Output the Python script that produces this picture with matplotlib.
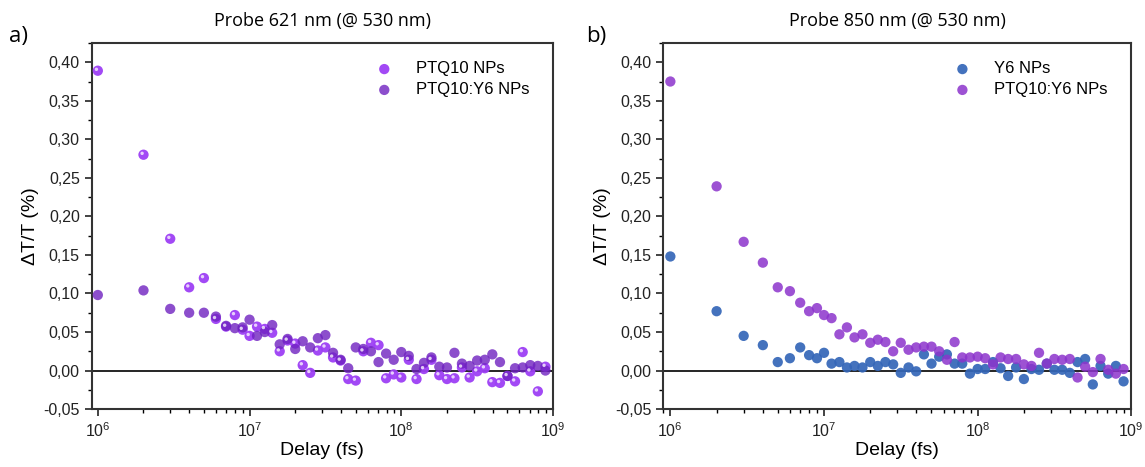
import numpy as np
import matplotlib.pyplot as plt
from matplotlib.ticker import FuncFormatter, MultipleLocator, LogLocator, NullFormatter
from matplotlib.transforms import offset_copy

# delay points (fs): linear steps in the first decade, then 20 per decade
delay = [1e6, 2e6, 3e6, 4e6, 5e6, 6e6, 7e6, 8e6, 9e6,
         1.00e7, 1.12e7, 1.26e7, 1.41e7, 1.58e7, 1.78e7, 2.00e7, 2.24e7, 2.51e7, 2.82e7,
         3.16e7, 3.55e7, 3.98e7, 4.47e7, 5.01e7, 5.62e7, 6.31e7, 7.08e7, 7.94e7, 8.91e7,
         1.00e8, 1.12e8, 1.26e8, 1.41e8, 1.58e8, 1.78e8, 2.00e8, 2.24e8, 2.51e8, 2.82e8,
         3.16e8, 3.55e8, 3.98e8, 4.47e8, 5.01e8, 5.62e8, 6.31e8, 7.08e8, 7.94e8, 8.91e8]

# panel a: probe 621 nm
ptq10_621 = [0.389, 0.280, 0.171, 0.108, 0.120, 0.067, 0.057, 0.072, 0.053,
             0.045, 0.057, 0.054, 0.049, 0.025, 0.039, 0.035, 0.007, -0.003, 0.026,
             0.030, 0.017, 0.013, -0.011, -0.013, 0.025, 0.036, 0.033, -0.010, -0.005,
             -0.009, 0.014, -0.011, 0.002, 0.014, -0.006, -0.011, -0.010, 0.004, -0.009,
             -0.001, 0.003, -0.015, -0.016, -0.007, -0.014, 0.024, -0.001, -0.027, 0.005]
blend_621 = [0.098, 0.104, 0.080, 0.075, 0.075, 0.070, 0.058, 0.055, 0.056,
             0.066, 0.045, 0.050, 0.059, 0.034, 0.041, 0.028, 0.038, 0.030, 0.042,
             0.046, 0.023, 0.014, 0.003, 0.030, 0.028, 0.025, 0.011, 0.022, 0.014,
             0.024, 0.019, 0.002, 0.010, 0.017, 0.005, 0.004, 0.023, 0.009, 0.006,
             0.013, 0.014, 0.021, 0.011, -0.007, 0.003, 0.004, 0.007, 0.006, 0.000]

# panel b: probe 850 nm
y6_850 = [0.148, 0.077, 0.045, 0.033, 0.011, 0.016, 0.030, 0.020, 0.016,
          0.023, 0.009, 0.011, 0.004, 0.006, 0.004, 0.011, 0.006, 0.011, 0.008,
          -0.003, 0.004, -0.001, 0.021, 0.009, 0.018, 0.021, 0.009, 0.009, -0.004,
          0.002, 0.002, 0.011, 0.003, -0.007, 0.004, -0.011, 0.002, 0.001, 0.009,
          0.001, 0.001, -0.003, 0.011, 0.015, -0.018, 0.006, -0.004, 0.006, -0.014]
blend_850 = [0.375, 0.239, 0.167, 0.140, 0.108, 0.103, 0.088, 0.077, 0.081,
             0.072, 0.068, 0.047, 0.056, 0.043, 0.047, 0.036, 0.040, 0.037, 0.025,
             0.036, 0.027, 0.030, 0.031, 0.031, 0.025, 0.014, 0.037, 0.017, 0.017,
             0.018, 0.016, 0.008, 0.017, 0.015, 0.015, 0.008, 0.006, 0.023, 0.009,
             0.015, 0.014, 0.015, -0.009, 0.005, -0.002, 0.015, 0.001, -0.004, 0.002]

plt.rcParams['font.family'] = ['Liberation Sans', 'DejaVu Sans']

fig = plt.figure(figsize=(11.45, 4.67), dpi=100)
ax_a = fig.add_axes([0.080, 0.124, 0.403, 0.784])
ax_b = fig.add_axes([0.579, 0.124, 0.409, 0.784])


def comma(v, pos):
    return f"{v:.2f}".replace('.', ',')


def style_axis(ax, title):
    ax.set_xscale('log')
    ax.set_xlim(9.1e5, 1e9)
    ax.set_ylim(-0.05, 0.425)
    ax.axhline(0, color='black', lw=1.2, zorder=1)
    ax.yaxis.set_major_locator(MultipleLocator(0.05))
    ax.yaxis.set_minor_locator(MultipleLocator(0.025))
    ax.yaxis.set_major_formatter(FuncFormatter(comma))
    ax.xaxis.set_major_locator(LogLocator(base=10, numticks=10))
    ax.xaxis.set_minor_locator(LogLocator(base=10, subs=np.arange(2, 10), numticks=20))
    ax.xaxis.set_minor_formatter(NullFormatter())
    ax.tick_params(which='major', direction='out', length=5, width=1.2,
                   labelsize=11.5, colors='#222222', top=False, right=False)
    ax.tick_params(which='minor', direction='out', length=3, width=1.0,
                   top=False, right=False)
    for sp in ax.spines.values():
        sp.set_linewidth(1.5)
        sp.set_color('#333333')
    ax.set_xlabel('Delay (fs)', fontsize=14, labelpad=2)
    ax.set_ylabel('ΔT/T (%)', fontsize=14, labelpad=3)
    ax.set_title(title, fontsize=13, family='Open Sans', pad=12)


# panel a, sphere-like markers with a small highlight
style_axis(ax_a, 'Probe 621 nm (@ 530 nm)')
ax_a.scatter(delay, ptq10_621, s=55, color='#9d3ff5', edgecolors='none',
             alpha=0.95, zorder=3, label='PTQ10 NPs')
ax_a.scatter(delay, blend_621, s=55, color='#6f22c0', edgecolors='none',
             alpha=0.8, zorder=3, label='PTQ10:Y6 NPs')
hl = offset_copy(ax_a.transData, fig=fig, x=-1.0, y=1.0, units='points')
ax_a.scatter(delay, ptq10_621, s=6, color='white', edgecolors='none',
             alpha=0.75, zorder=4, transform=hl)
ax_a.legend(loc='upper right', frameon=False, fontsize=12, handletextpad=0.9,
            borderaxespad=0.6, labelspacing=0.35, bbox_to_anchor=(0.985, 0.995))

# panel b, flat markers
style_axis(ax_b, 'Probe 850 nm (@ 530 nm)')
ax_b.set_xlim(8.95e5, 1e9)
ax_b.scatter(delay, y6_850, s=55, color='#3466b8', edgecolors='none',
             alpha=0.92, zorder=3, label='Y6 NPs')
ax_b.scatter(delay, blend_850, s=55, color='#8c34cc', edgecolors='none',
             alpha=0.85, zorder=3, label='PTQ10:Y6 NPs')
ax_b.legend(loc='upper right', frameon=False, fontsize=12, handletextpad=0.9,
            borderaxespad=0.6, labelspacing=0.35, bbox_to_anchor=(0.985, 0.995))

fig.text(0.008, 0.91, 'a)', fontsize=16, family='Open Sans')
fig.text(0.512, 0.91, 'b)', fontsize=16, family='Open Sans')

fig.savefig('out.png', dpi=100)
